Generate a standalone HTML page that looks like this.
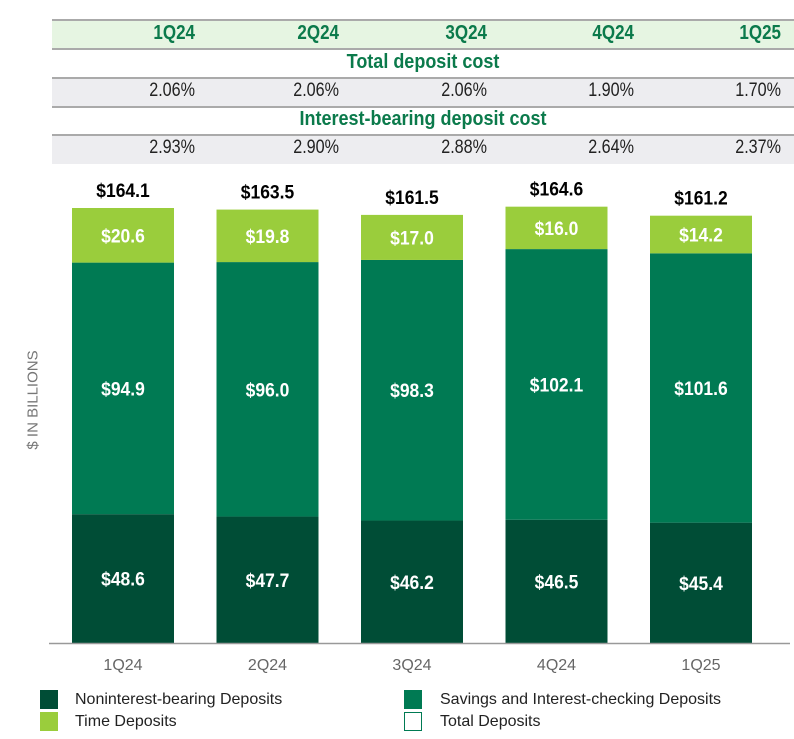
<!DOCTYPE html>
<html><head><meta charset="utf-8"><style>
body{margin:0;width:794px;height:739px;background:#fff;font-family:"Liberation Sans",sans-serif;overflow:hidden;position:relative}
.abs{position:absolute}
.row{position:absolute;left:52px;width:742px}
.cell{position:absolute;text-align:right;width:140px;transform-origin:100% 50%}
.hdr{color:#0b7a4b;font-weight:bold;font-size:20px;transform:scaleX(0.85)}
.pct{color:#222;font-size:19px;transform:scaleX(0.85)}
.sub{color:#0b7a4b;font-weight:bold;font-size:20px;text-align:center;width:100%;position:absolute;transform:scaleX(0.9)}
.line{position:absolute;left:52px;width:742px;height:2px;background:#aaa}
</style></head><body>
<div class="row" style="top:20px;height:28px;background:#e6f5e2"></div>
<div class="line" style="top:19px"></div>
<div class="line" style="top:48px"></div>
<div class="row" style="top:50px;height:27px"><div class="sub" style="top:1px">Total deposit cost</div></div>
<div class="line" style="top:77px"></div>
<div class="row" style="top:79px;height:27px;background:#ededf0"></div>
<div class="line" style="top:106px"></div>
<div class="row" style="top:108px;height:26px"><div class="sub" style="top:0px">Interest-bearing deposit cost</div></div>
<div class="line" style="top:134px"></div>
<div class="row" style="top:136px;height:28px;background:#ededf0"></div>
<div id="tbl"></div>
<div class="abs" style="left:33px;top:400px;transform:translate(-50%,-50%) rotate(-90deg);color:#777;font-size:15px;white-space:nowrap">$ IN BILLIONS</div>
<svg id="chart" class="abs" style="left:0;top:0" width="794" height="739"></svg>
<div class="abs" style="left:0;top:0">
<div class="abs" style="left:40px;top:690px;width:18px;height:19px;background:#004d36"></div>
<div class="abs" style="left:75px;top:691px;font-size:16px;color:#222;white-space:nowrap">Noninterest-bearing Deposits</div>
<div class="abs" style="left:40px;top:712px;width:18px;height:19px;background:#9acd3c"></div>
<div class="abs" style="left:75px;top:713px;font-size:16px;color:#222;white-space:nowrap">Time Deposits</div>
<div class="abs" style="left:404px;top:690px;width:18px;height:19px;background:#007a53"></div>
<div class="abs" style="left:440px;top:691px;font-size:16px;color:#222;white-space:nowrap">Savings and Interest-checking Deposits</div>
<div class="abs" style="left:404px;top:712px;width:16px;height:17px;border:1px solid #007a53"></div>
<div class="abs" style="left:440px;top:713px;font-size:16px;color:#222;white-space:nowrap">Total Deposits</div>
</div>
<script>
const categories=["1Q24","2Q24","3Q24","4Q24","1Q25"];
const nonInterest=[48.6,47.7,46.2,46.5,45.4];
const savings=[94.9,96.0,98.3,102.1,101.6];
const timeDep=[20.6,19.8,17.0,16.0,14.2];
const totals=[164.1,163.5,161.5,164.6,161.2];
const totalCost=["2.06%","2.06%","2.06%","1.90%","1.70%"];
const ibCost=["2.93%","2.90%","2.88%","2.64%","2.37%"];

const tbl=document.getElementById('tbl');
const colRight=[195,339,487,634,781];
categories.forEach((c,i)=>{
  [[c,'hdr',22],[totalCost[i],'pct',80],[ibCost[i],'pct',137]].forEach(([t,cls,top])=>{
    const d=document.createElement('div');
    
    
    d.className='abs cell '+cls;d.style.left=(colRight[i]-140)+'px';d.style.top=top+'px';d.textContent=t;tbl.appendChild(d);
  });
});

const svg=document.getElementById('chart');const NS='http://www.w3.org/2000/svg';
const base=643,scale=435/164.1,x0=72,step=144.5,bw=102;
const y=v=>base-v*scale;
const xb=i=>x0+i*step;
function rect(x,yy,w,h,fill,name){const r=document.createElementNS(NS,'rect');r.setAttribute('x',x);r.setAttribute('y',yy);r.setAttribute('width',w);r.setAttribute('height',h);r.setAttribute('fill',fill);


svg.appendChild(r);}
function text(x,yy,t,fill,size,bold,name,sx){const e=document.createElementNS(NS,'text');e.setAttribute('x',x/sx);e.setAttribute('y',yy);e.setAttribute('text-anchor','middle');e.setAttribute('fill',fill);e.setAttribute('font-size',size);if(bold)e.setAttribute('font-weight','bold');e.setAttribute('font-family','Liberation Sans, sans-serif');e.setAttribute('transform','scale('+sx+',1)');e.textContent=t;


svg.appendChild(e);}
categories.forEach((c,i)=>{
  const x=xb(i),cx=x+bw/2;
  const a=nonInterest[i],b=savings[i],t=timeDep[i];
  rect(x,y(a),bw,a*scale,'#004d36','bar-noninterest');
  rect(x,y(a+b),bw,b*scale,'#007a53','bar-savings');
  rect(x,y(a+b+t),bw,t*scale,'#9acd3c','bar-time');
  text(cx,(y(0)+y(a))/2+7,'$'+a.toFixed(1),'#fff',19,true,'label-noninterest',0.92);
  text(cx,(y(a)+y(a+b))/2+7,'$'+b.toFixed(1),'#fff',19,true,'label-savings',0.92);
  text(cx,(y(a+b)+y(a+b+t))/2+7,'$'+t.toFixed(1),'#fff',19,true,'label-time',0.92);
  text(cx,y(totals[i])-11,'$'+totals[i].toFixed(1),'#000',19,true,'label-total',0.92);
  text(cx,670,c,'#666',16,false,'x-tick-label',1);
});
const ax=document.createElementNS(NS,'line');ax.setAttribute('x1',49);ax.setAttribute('x2',790);ax.setAttribute('y1',643.5);ax.setAttribute('y2',643.5);ax.setAttribute('stroke','#999');ax.setAttribute('stroke-width',1.5);


svg.appendChild(ax);
</script>
</body></html>
